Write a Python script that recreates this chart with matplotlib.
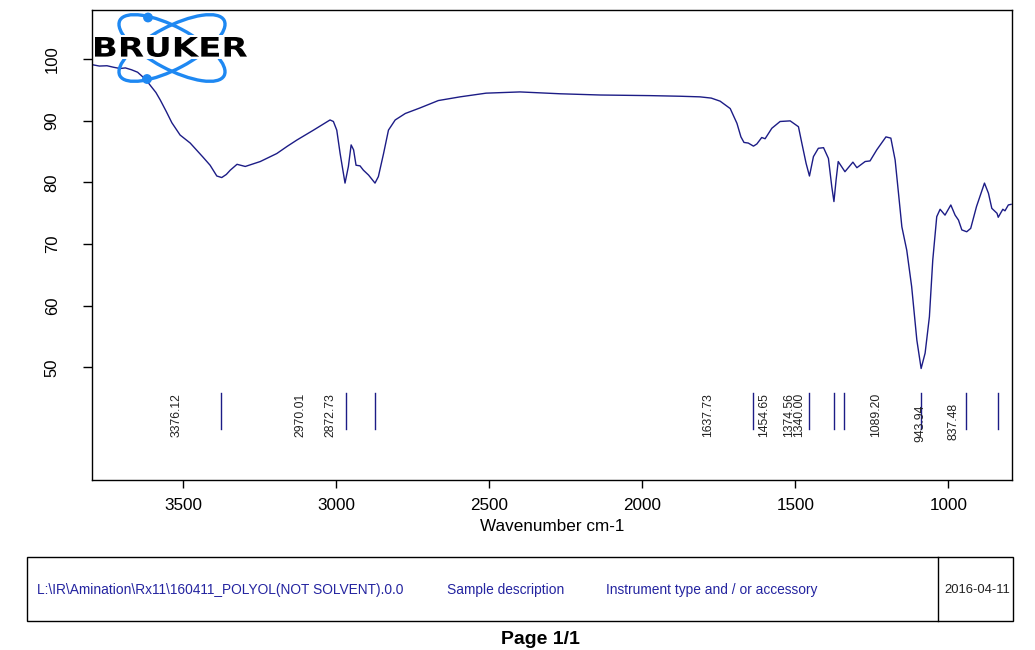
import matplotlib
matplotlib.use("Agg")
import matplotlib.pyplot as plt
from matplotlib.patches import Ellipse, Circle, Rectangle, PathPatch
from matplotlib.textpath import TextPath
from matplotlib.font_manager import FontProperties
from matplotlib.transforms import Affine2D, offset_copy

plt.rcParams['font.family'] = ['Liberation Sans', 'DejaVu Sans']

# ---- spectrum (wavenumber cm-1, transmittance %) ----
wavenumber = [3796, 3775, 3750, 3728, 3707, 3690, 3670, 3650, 3632, 3620, 3609,
              3590, 3576, 3556, 3538, 3511, 3478, 3436, 3413, 3391, 3375, 3360,
              3347, 3325, 3298, 3249, 3195, 3160, 3129, 3075, 3021, 3010, 2999,
              2988, 2972, 2961, 2952, 2944, 2936, 2923, 2912, 2895, 2874, 2863,
              2846, 2830, 2808, 2775, 2727, 2667, 2596, 2511, 2400, 2269, 2138,
              1975, 1877, 1812, 1775, 1746, 1713, 1691, 1678, 1668, 1654, 1637,
              1626, 1610, 1599, 1577, 1550, 1517, 1490, 1479, 1465, 1454, 1441,
              1425, 1408, 1392, 1381, 1374, 1367, 1360, 1352, 1338, 1312, 1299,
              1272, 1256, 1234, 1204, 1188, 1174, 1163, 1152, 1136, 1120, 1103,
              1089, 1076, 1062, 1051, 1038, 1027, 1011, 992, 978, 967, 956, 940,
              927, 908, 882, 869, 858, 841, 837, 822, 815, 804, 795]
transmittance = [99.1, 98.9, 98.95, 98.7, 98.5, 98.6, 98.3, 97.9, 97.1, 96.5, 95.8,
                 94.6, 93.4, 91.5, 89.7, 87.7, 86.4, 84.1, 82.8, 81.05, 80.8, 81.3,
                 82.0, 82.95, 82.6, 83.4, 84.7, 85.9, 86.9, 88.5, 90.15, 89.9, 88.5,
                 84.7, 79.9, 82.6, 86.1, 85.3, 82.8, 82.7, 82.0, 81.2, 79.9, 80.95,
                 84.7, 88.5, 90.15, 91.2, 92.1, 93.3, 93.9, 94.5, 94.7, 94.4, 94.2,
                 94.1, 94.0, 93.9, 93.7, 93.2, 92.0, 89.6, 87.4, 86.5, 86.4, 85.9,
                 86.25, 87.3, 87.1, 88.8, 89.9, 90.0, 89.05, 86.4, 83.1, 81.05, 84.2,
                 85.55, 85.65, 83.9, 79.3, 76.9, 80.4, 83.4, 82.8, 81.75, 83.3, 82.4,
                 83.4, 83.5, 85.3, 87.4, 87.2, 83.65, 78.25, 72.8, 69.0, 63.1, 54.4,
                 49.8, 52.3, 58.2, 67.4, 74.45, 75.65, 74.7, 76.35, 74.7, 73.9, 72.3, 72.0,
                 72.55, 76.1, 79.9, 78.25, 75.8, 75.0, 74.35, 75.65, 75.4, 76.35, 76.45]

# ---- peak picks ----
peak_wn = [3376.12, 2970.01, 2872.73, 1637.73, 1454.65, 1374.56, 1340.00, 1089.20, 943.94, 837.48]
peak_labels = ["3376.12", "2970.01", "2872.73", "1637.73", "1454.65",
               "1374.56", "1340.00", "1089.20", "943.94", "837.48"]
label_top = [45.8, 45.8, 45.8, 45.8, 45.8, 45.8, 45.8, 45.8, 43.9, 44.3]

x_ticks = [3500, 3000, 2500, 2000, 1500, 1000]
y_ticks = [50, 60, 70, 80, 90, 100]

footer_file = "L:\\IR\\Amination\\Rx11\\160411_POLYOL(NOT SOLVENT).0.0"
footer_sample = "Sample description"
footer_instr = "Instrument type and / or accessory"
footer_date = "2016-04-11"

W, H = 1035, 650
fig = plt.figure(figsize=(W / 100, H / 100), dpi=100)
fig.patch.set_facecolor('white')

line_col = '#1c1c86'
ax = fig.add_axes([92.3 / W, 1 - 480 / H, (1011.7 - 92.3) / W, (480 - 10) / H])
ax.plot(wavenumber, transmittance, color=line_col, lw=1.0)
ax.set_xlim(3798, 793)
ax.set_ylim(31.7, 108.0)
ax.set_xticks(x_ticks)
ax.set_yticks(y_ticks)
ax.tick_params(axis='x', length=6, width=1, labelsize=12.3, pad=7)
ax.tick_params(axis='y', length=6.5, width=1, labelsize=12, pad=17, labelrotation=90)
for lab in ax.get_yticklabels():
    lab.set_va('center')
for s in ax.spines.values():
    s.set_linewidth(1.0)
ax.set_xlabel("Wavenumber cm-1", fontsize=12.3, labelpad=4)

# peak markers
for wn, lab, top in zip(peak_wn, peak_labels, label_top):
    ax.plot([wn, wn], [45.8, 40.0], color=line_col, lw=1.0)
    tr = offset_copy(ax.transData, fig=fig, x=-45, y=0, units='dots')
    ax.text(wn, top, lab, transform=tr, rotation=90, ha='center', va='top',
            fontsize=8.8, color='#222222')

# ---- overlay in pixel coordinates ----
ov = fig.add_axes([0, 0, 1, 1])
ov.set_xlim(0, W)
ov.set_ylim(H, 0)
ov.axis('off')
ov.patch.set_alpha(0)

# Bruker logo
logo_col = '#1e88f2'
for ang in (28, -28):
    ov.add_patch(Ellipse((172, 48), 118, 42, angle=ang, fill=False,
                         edgecolor=logo_col, lw=2.4))
ov.add_patch(Circle((148, 17.5), 4.2, color=logo_col))
ov.add_patch(Circle((147, 79), 4.2, color=logo_col))
ov.add_patch(Rectangle((94, 35), 155, 24, facecolor='white', edgecolor='none'))
tp = TextPath((0, 0), "BRUKER", size=100,
              prop=FontProperties(family='DejaVu Sans', weight='bold'))
ext = tp.get_extents()
sx = 152 / ext.width
sy = 20 / ext.height
trp = Affine2D().translate(-ext.x0, -ext.y0).scale(sx, -sy).translate(95, 57)
ov.add_patch(PathPatch(trp.transform_path(tp), facecolor='black', edgecolor='none'))

# footer box
ov.add_patch(Rectangle((27, 556.5), 986, 64.5, fill=False, edgecolor='black', lw=1.0))
ov.plot([938.3, 938.3], [556.5, 621], color='black', lw=1.0)
ftc = '#2424a0'
ov.text(37, 590, footer_file, fontsize=9.9, color=ftc, va='center', ha='left')
ov.text(447, 590, footer_sample, fontsize=9.9, color=ftc, va='center', ha='left')
ov.text(606.5, 590, footer_instr, fontsize=9.9, color=ftc, va='center', ha='left')
ov.text(1010, 590, footer_date, fontsize=9.4, color='#222222', va='center', ha='right')
ov.text(540, 639, "Page 1/1", fontsize=14, fontweight='bold', color='black',
        va='center', ha='center')

fig.savefig("out.png", dpi=100)
